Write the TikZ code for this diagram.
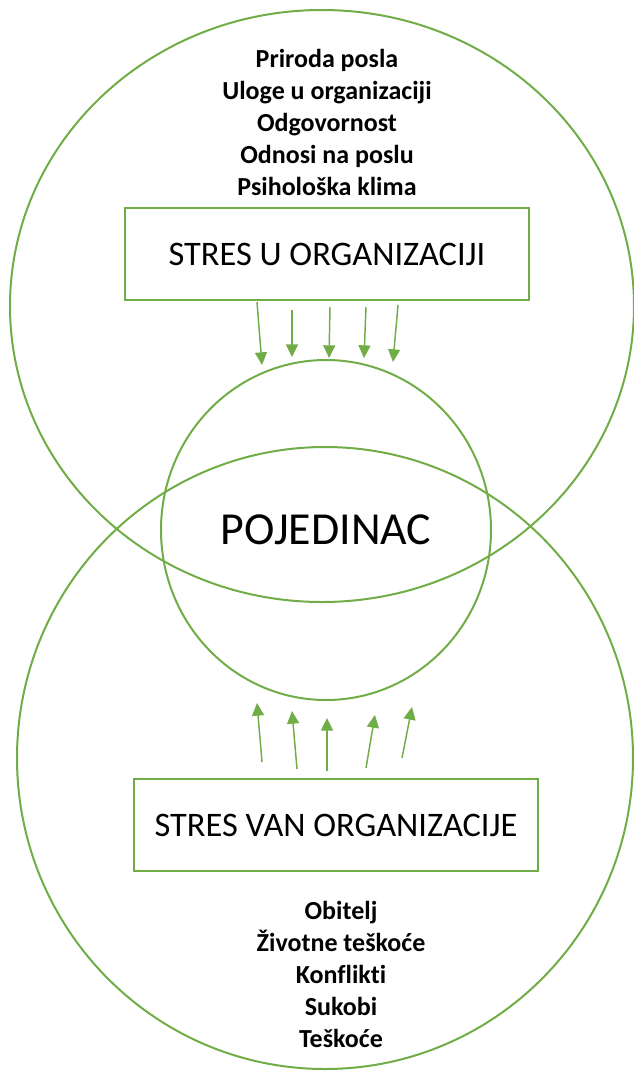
\documentclass[tikz,border=0pt]{standalone}
\usepackage{fontspec}
\setmainfont{Carlito}[Ligatures=NoCommon]
\usetikzlibrary{arrows.meta,shapes.geometric}
\definecolor{zelena}{HTML}{70AD47}

\begin{document}
\begin{tikzpicture}[x=0.75pt, y=-0.75pt,
    okvir/.style={draw=zelena, line width=1.1pt, minimum width=303pt, minimum height=69pt,
      font=\fontsize{25.8}{30}\selectfont},
    popis/.style={align=center, font=\fontsize{19.5}{24}\selectfont\bfseries},
    strelica/.style={zelena, line width=1.1pt, -{Triangle[length=9.5pt, width=9pt]}}]
  \useasboundingbox (0,0) rectangle (633,1071);

  %--- velike elipse
  \draw[zelena, line width=1.5pt] (322,306) ellipse [x radius=312, y radius=296];
  \draw[zelena, line width=1.5pt] (325,758) ellipse [x radius=308, y radius=311];

  %--- pojedinac
  \node[draw=zelena, line width=1.5pt, ellipse, minimum width=247.5pt, minimum height=255pt,
    inner sep=0pt, font=\fontsize{34.4}{40}\selectfont] (pojedinac) at (326,530) {POJEDINAC};

  %--- okviri
  \node[okvir] (unutra) at (327,254) {STRES U ORGANIZACIJI};
  \node[okvir] (van) at (336,825) {STRES VAN ORGANIZACIJE};

  %--- popisi
  \node[popis] (uzroci) at (327,122)
    {Priroda posla\\Uloge u organizaciji\\Odgovornost\\Odnosi na poslu\\Psihološka klima};
  \node[popis] (izvori) at (341,974)
    {Obitelj\\Životne teškoće\\Konflikti\\Sukobi\\Teškoće};

  %--- strelice prema pojedincu
  \foreach \i/\xs/\ys/\xe/\ye in {1/257/302/262/365, 2/292/310/292/357, 3/330/307/329/358,
                                 4/366/307/364/358, 5/398/305/393/362}{
    \coordinate (g\i) at (\xs,\ys);
    \coordinate (p\i) at (\xe,\ye);
    \draw[strelica] (g\i) -- (p\i);
  }
  \foreach \i/\xs/\ys/\xe/\ye in {1/262/762/257/703, 2/297/769/292/711, 3/327/771/327/718,
                                 4/366/768/375/715, 5/402/758/412/707}{
    \coordinate (d\i) at (\xs,\ys);
    \coordinate (q\i) at (\xe,\ye);
    \draw[strelica] (d\i) -- (q\i);
  }
\end{tikzpicture}
\end{document}
